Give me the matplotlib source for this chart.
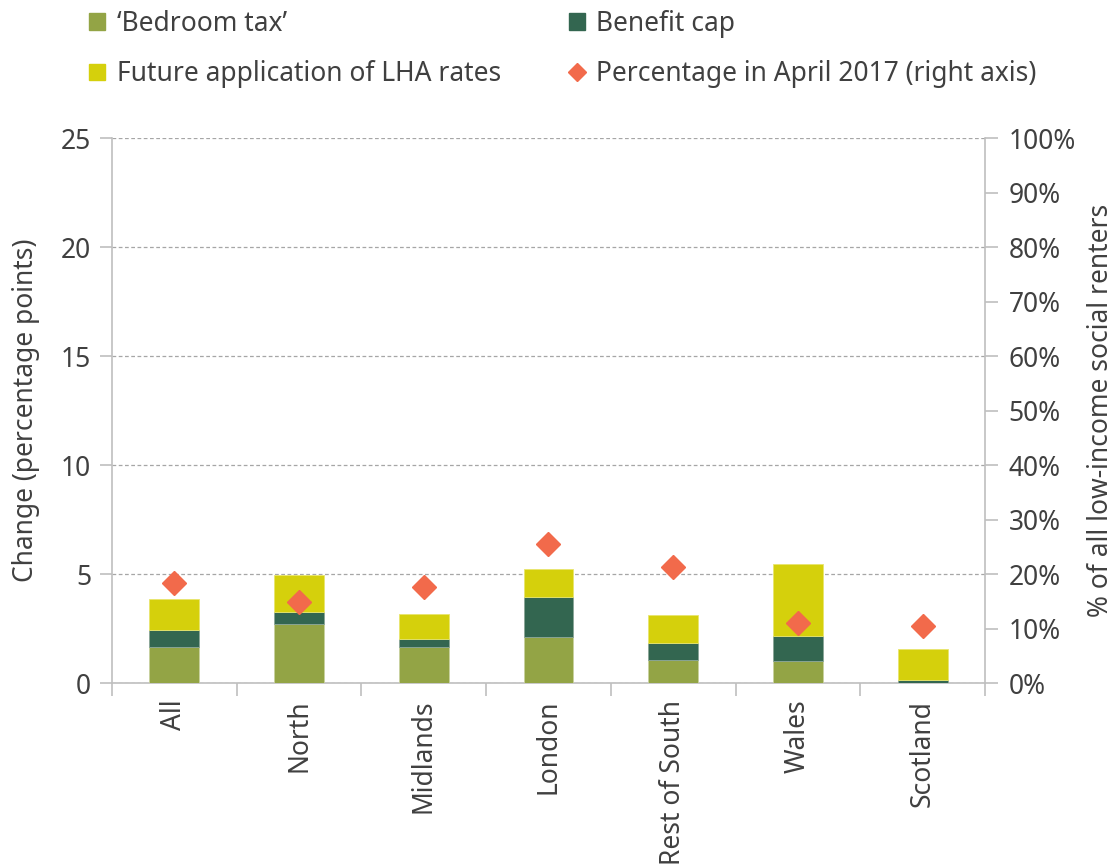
import numpy as np
import matplotlib.pyplot as plt
from matplotlib.patches import Patch
from matplotlib.lines import Line2D

regions = ['All', 'North', 'Midlands', 'London', 'Rest of South', 'Wales', 'Scotland']
bedroom_tax = [1.64, 2.69, 1.65, 2.12, 1.07, 0.99, 0.02]
benefit_cap = [0.78, 0.58, 0.38, 1.82, 0.78, 1.17, 0.10]
lha_rates = [1.43, 1.68, 1.14, 1.27, 1.27, 3.31, 1.43]
pct_april_2017 = [18.3, 14.9, 17.7, 25.6, 21.3, 11.0, 10.5]

c_bed = '#93a445'
c_cap = '#336650'
c_lha = '#d5d00c'
c_pct = '#f26a4b'
txt = '#404040'
axcol = '#bfbfbf'

plt.rcParams['font.family'] = ['Noto Sans', 'DejaVu Sans']
plt.rcParams['font.size'] = 19
plt.rcParams['text.color'] = txt

fig = plt.figure(figsize=(11.13, 8.68), dpi=100)
ax = fig.add_axes([0.1006, 0.2131, 0.7844, 0.6279])
ax2 = ax.twinx()

x = np.arange(len(regions))
w = 0.4
b1 = np.array(bedroom_tax)
b2 = np.array(benefit_cap)
b3 = np.array(lha_rates)
ax.bar(x, b1, width=w, color=c_bed, edgecolor='#c9d29f', linewidth=0.6, zorder=3)
ax.bar(x, b2, width=w, bottom=b1, color=c_cap, edgecolor='#8aa597', linewidth=0.6, zorder=3)
ax.bar(x, b3, width=w, bottom=b1 + b2, color=c_lha, edgecolor='#e8e56e', linewidth=0.6, zorder=3)

ax2.plot(x, pct_april_2017, linestyle='none', marker='D', markersize=12,
         color=c_pct, zorder=4)

ax.set_xlim(-0.5, len(regions) - 0.5)
ax.set_ylim(0, 25)
ax2.set_ylim(0, 100)
ax.set_yticks(range(0, 26, 5))
ax2.set_yticks(range(0, 101, 10))
ax2.set_yticklabels([f'{v}%' for v in range(0, 101, 10)])

ax.grid(axis='y', color='#a6a6a6', linestyle=(0, (3, 2)), linewidth=0.9, zorder=0)
ax.set_axisbelow(True)

ax.set_xticks(np.arange(-0.5, len(regions), 1))
ax.set_xticklabels([])
ax.set_xticks(x, minor=True)
ax.set_xticklabels(regions, minor=True, rotation=90, ha='center', va='top')
ax.tick_params(axis='x', which='minor', length=0, pad=12, colors=txt, labelsize=19)
ax.tick_params(axis='x', which='major', length=9, color=axcol, width=1.2)
ax.tick_params(axis='y', length=9, color=axcol, width=1.2, labelcolor=txt, pad=6)
ax2.tick_params(axis='y', length=9, color=axcol, width=1.2, labelcolor=txt, pad=8)

for a in (ax, ax2):
    a.spines['top'].set_visible(False)
    for s in ('left', 'right', 'bottom'):
        a.spines[s].set_color(axcol)
        a.spines[s].set_linewidth(1.2)
ax.spines['right'].set_visible(False)
ax2.spines['left'].set_visible(False)
ax2.spines['bottom'].set_visible(False)

ax.set_ylabel('Change (percentage points)', color=txt, labelpad=15)
ax2.set_ylabel('% of all low-income social renters', color=txt, labelpad=8)

handles = [
    Patch(color=c_bed, label='\u2018Bedroom tax\u2019'),
    Patch(color=c_lha, label='Future application of LHA rates'),
    Patch(color=c_cap, label='Benefit cap'),
    Line2D([], [], linestyle='none', marker='D', markersize=9, color=c_pct,
           label='Percentage in April 2017 (right axis)'),
]
fig.legend(handles=handles, ncol=2, loc='upper left', bbox_to_anchor=(0.059, 1.016),
           frameon=False, handlelength=0.6, handleheight=0.6, handletextpad=0.45,
           labelspacing=0.85, columnspacing=2.55, fontsize=19)

plt.savefig('out.png', dpi=100)
